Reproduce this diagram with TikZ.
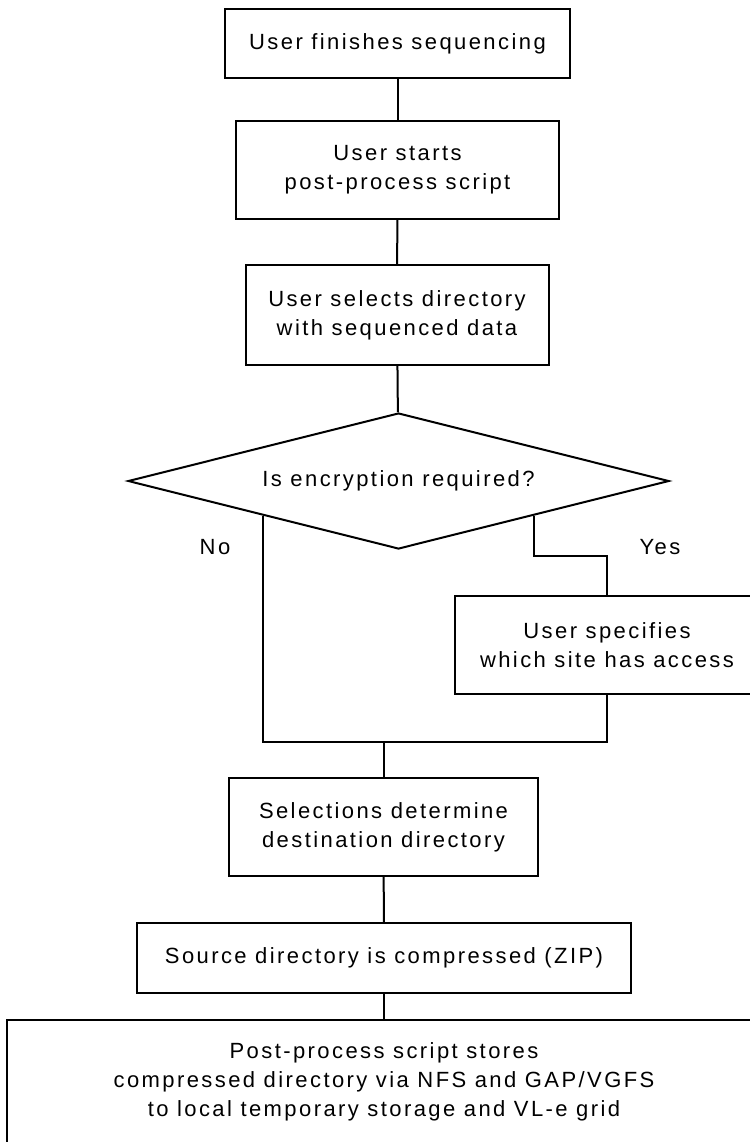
\documentclass[tikz,border=0pt]{standalone}
\usepackage{fontspec}
\setmainfont{Liberation Sans}[LetterSpace=11]
\usetikzlibrary{shapes.geometric}

\begin{document}
\begin{tikzpicture}[x=0.5pt,y=-0.5pt,
	stepbox/.style={draw,line width=1pt,align=center,inner sep=0pt,font=\fontsize{11}{14.6}\selectfont},
	question/.style={stepbox,diamond,aspect=3.98,minimum width=270.5pt,minimum height=68pt},
	answer/.style={font=\fontsize{11}{14.6}\selectfont},
	link/.style={line width=1pt}]

	% page frame, the right side is cut off
	\clip (0,0) rectangle (750,1142);

	% main column
	\node[stepbox,minimum width=172.5pt,minimum height=34.5pt] (finish) at (397.5,43.5) {User finishes sequencing};
	\node[stepbox,minimum width=161.5pt,minimum height=49pt] (start) at (397.5,170) {User starts\\post-process script};
	\node[stepbox,minimum width=151.5pt,minimum height=50pt] (select) at (397,315) {User selects directory\\with sequenced data};
	\node[question] (encrypt) at (398.5,481) {Is encryption required?};

	% yes branch
	\node[stepbox,minimum width=152pt,minimum height=49pt] (site) at (607,645) {User specifies\\which site has access};

	% after the branches
	\node[stepbox,minimum width=154.5pt,minimum height=49pt] (destination) at (383.5,827) {Selections determine\\destination directory};
	\node[stepbox,minimum width=247pt,minimum height=35pt] (zip) at (384,958) {Source directory is compressed (ZIP)};
	\node[stepbox,minimum width=377pt,minimum height=62pt] (store) at (384,1082) {Post-process script stores\\compressed directory via NFS and GAP/VGFS\\to local temporary storage and VL-e grid};

	% branch labels
	\node[answer] (no) at (215,547) {No};
	\node[answer] (yes) at (660,547) {Yes};

	% connectors
	\draw[link] (finish) -- (start);
	\draw[link] (start) -- (select);
	\draw[link] (select) -- (encrypt);
	\draw[link] (encrypt.south east) -- ++(0,40) -| (site.north);
	\coordinate (merge) at (383.5,742);
	\draw[link] (encrypt.south west) |- (merge) -| (site.south);
	\draw[link] (merge) -- (destination);
	\draw[link] (destination) -- (zip);
	\draw[link] (zip) -- (store);

\end{tikzpicture}
\end{document}
